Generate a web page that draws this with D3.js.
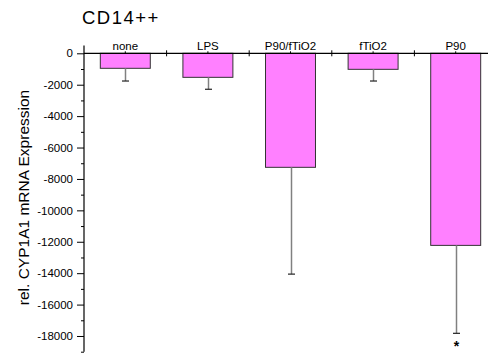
<!DOCTYPE html>
<html><head><meta charset="utf-8">
<script src="https://cdn.jsdelivr.net/npm/d3@7"></script>
<style>body{margin:0;background:#fff}svg{display:block;font-family:"Liberation Sans",Arial,sans-serif}</style>
</head><body>
<svg id="c" width="488" height="354"></svg>
<script>
const categories = ["none", "LPS", "P90/fTiO2", "fTiO2", "P90"];
const means = [-955, -1530, -7260, -1020, -12230];
const errors = [810, 760, 6800, 745, 5600];
const significant = [false, false, false, false, true];
const majorTicks = [0, -2000, -4000, -6000, -8000, -10000, -12000, -14000, -16000, -18000];
const minorTicks = [-1000, -3000, -5000, -7000, -9000, -11000, -13000, -15000, -17000, -19000];

const svg = d3.select("#c");
const axX = 84;
const x = d3.scaleBand().domain(categories).range([axX, 497]).paddingInner(0.395).paddingOuter(0.1975);
const y = d3.scaleLinear().domain([-19000, 500]).range([351.7, 45.45]);
const step = x.step();

// bars
svg.append("g").selectAll("rect").data(categories).join("rect")
  .attr("x", d => x(d)).attr("width", x.bandwidth())
  .attr("y", y(0)).attr("height", (d, i) => y(means[i]) - y(0))
  .attr("fill", "#ff80ff").attr("stroke", "#333").attr("stroke-width", 1);

// error bars
const eb = svg.append("g");
categories.forEach((c, i) => {
  const cx = Math.round(x(c) + x.bandwidth() / 2) + 0.5;
  const y1 = y(means[i]), y2 = y(means[i] - errors[i]);
  eb.append("line").attr("x1", cx).attr("x2", cx).attr("y1", y1).attr("y2", y2)
    .attr("stroke", "#808080").attr("stroke-width", 1.5);
  eb.append("line").attr("x1", cx - 3.5).attr("x2", cx + 3.5).attr("y1", y2).attr("y2", y2)
    .attr("stroke", "#222").attr("stroke-width", 1.2);
  if (significant[i]) {
    svg.append("text").attr("x", cx).attr("y", 350.5).attr("text-anchor", "middle")
      .attr("font-size", 14).attr("font-weight", "bold").text("*");
  }
});

// y axis
const ya = svg.append("g").attr("transform", `translate(${axX},0)`);
ya.call(d3.axisLeft(y).tickValues(majorTicks).tickSize(7).tickPadding(4).tickFormat(d => d === 0 ? "0" : "-" + Math.abs(d)));
ya.select(".domain").remove();
ya.selectAll("text").attr("font-size", 11.5).attr("font-family", "Liberation Sans, Arial, sans-serif").attr("fill", "#000");
ya.selectAll(".tick line").attr("stroke", "#000");
const ym = svg.append("g").attr("transform", `translate(${axX},0)`);
ym.call(d3.axisLeft(y).tickValues(minorTicks).tickSize(3).tickFormat(""));
ym.select(".domain").remove();
svg.append("line").attr("x1", axX).attr("x2", axX).attr("y1", y(500)).attr("y2", y(-19000)).attr("stroke", "#000").attr("stroke-width", 1.2);

// x axis line at zero
const y0 = y(0);
svg.append("line").attr("x1", axX).attr("x2", 488).attr("y1", y0).attr("y2", y0).attr("stroke", "#000").attr("stroke-width", 1.2);
const gx = svg.append("g");
categories.forEach((c, i) => {
  if (i > 0) {
    const bx = axX + i * step;
    gx.append("line").attr("x1", bx).attr("x2", bx).attr("y1", y0 - 3).attr("y2", y0 + 3).attr("stroke", "#000");
  }
  const cx = x(c) + x.bandwidth() / 2;
  gx.append("line").attr("x1", cx).attr("x2", cx).attr("y1", y0 - 2).attr("y2", y0).attr("stroke", "#000");
  gx.append("text").attr("x", cx).attr("y", y0 - 3).attr("text-anchor", "middle")
    .attr("font-size", 11.5).text(c);
});

// title
svg.append("text").attr("x", 82).attr("y", 24).attr("font-size", 18.5).attr("letter-spacing", 1.5).text("CD14++");
// y title
svg.append("text").attr("transform", "translate(29,197.5) rotate(-90)").attr("text-anchor", "middle")
  .attr("font-size", 15.5).text("rel. CYP1A1 mRNA Expression");
</script>
</body></html>
